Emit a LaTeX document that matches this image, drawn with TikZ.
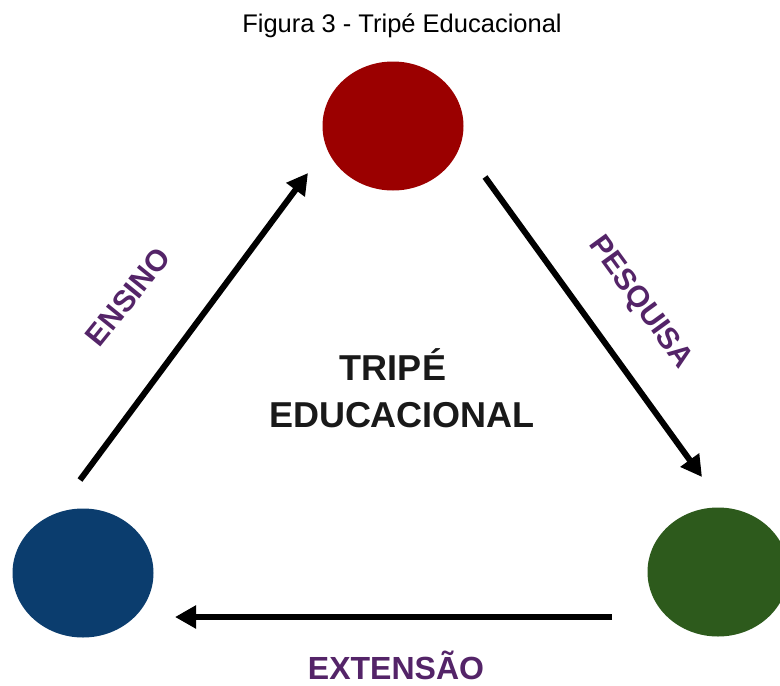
\documentclass[tikz,border=0pt]{standalone}
\usepackage{fontspec}
\setmainfont{Liberation Sans}
\usetikzlibrary{shapes.geometric,arrows.meta}
\definecolor{topred}{RGB}{155,0,0}
\definecolor{leftblue}{RGB}{11,61,110}
\definecolor{rightgreen}{RGB}{45,90,28}
\definecolor{labpurple}{RGB}{84,36,104}
\tikzset{
  dot/.style={ellipse,inner sep=0pt,minimum width=141pt,minimum height=129pt},
  flow/.style={line width=6pt,-{Triangle[length=21pt,width=22pt]}},
  lab/.style={font=\bfseries\fontsize{30}{30}\selectfont,text=labpurple,inner sep=0pt},
  central/.style={font=\bfseries\fontsize{36}{36}\selectfont,text=black!90,anchor=base,inner sep=0pt}
}
\begin{document}
\begin{tikzpicture}[x=1pt,y=-1pt]
\useasboundingbox[fill=white] (0,0) rectangle (780,686);
\begin{scope}
\clip (0,0) rectangle (780,686);
\node[font=\fontsize{25.5}{25.5}\selectfont,inner sep=0pt,anchor=base] (title) at (402,32) {Figura 3 - Tripé Educacional};
\node[dot,fill=topred] (top) at (393,126) {};
\node[dot,fill=leftblue] (left) at (83,573) {};
\node[dot,fill=rightgreen] (right) at (718,572) {};
\coordinate (a1s) at (80,480);
\coordinate (a1e) at (308,173);
\coordinate (a2s) at (485,177);
\coordinate (a2e) at (702,477);
\coordinate (a3s) at (612,617);
\coordinate (a3e) at (175,617);
\draw[flow] (a1s) -- (a1e);
\draw[flow] (a2s) -- (a2e);
\draw[flow] (a3s) -- (a3e);
\node[lab,rotate=51] (ensino) at (128,297) {ENSINO};
\node[lab,rotate=-54] (pesquisa) at (640,303) {PESQUISA};
\node[lab,font=\bfseries\fontsize{32}{32}\selectfont,anchor=base] (extensao) at (396,679) {EXTENSÃO};
\node[central] (tripe) at (393,380) {TRIPÉ};
\node[central] (educ) at (402,427) {EDUCACIONAL};
\end{scope}
\end{tikzpicture}
\end{document}
